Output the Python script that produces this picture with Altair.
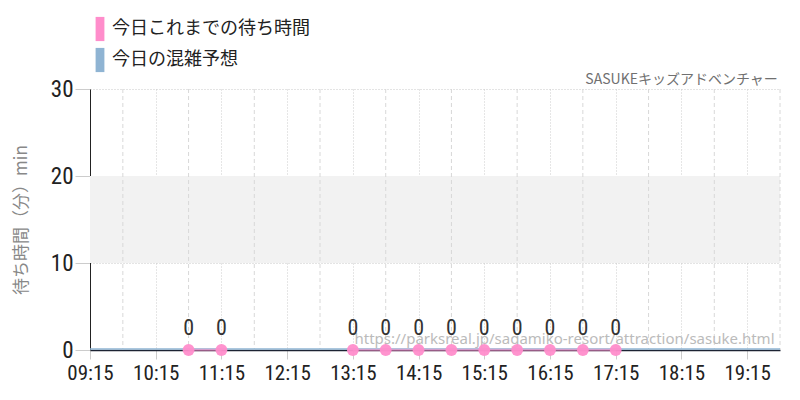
import altair as alt
import pandas as pd

DAY = "2024-01-01T"
actual_times = ["10:45", "11:15", "13:15", "13:45", "14:15", "14:45", "15:15", "15:45", "16:15", "16:45", "17:15"]
actual_vals = [0, 0, 0, 0, 0, 0, 0, 0, 0, 0, 0]
actual_seg = [1, 1, 2, 2, 2, 2, 2, 2, 2, 2, 2]
forecast_times = ["09:15", "10:15", "11:15", "12:15", "13:15", "14:15", "15:15", "16:15", "17:15", "18:15", "19:15", "19:45"]
forecast_vals = [0, 0, 0, 0, 0, 0, 0, 0, 0, 0, 0, 0]
major_ticks = ["09:15", "10:15", "11:15", "12:15", "13:15", "14:15", "15:15", "16:15", "17:15", "18:15", "19:15"]
minor_ticks = ["09:45", "10:45", "11:45", "12:45", "13:45", "14:45", "15:45", "16:45", "17:45", "18:45", "19:45"]
band = [10, 20]
x_domain = ["09:15", "19:45"]
y_domain = [0, 30]
series_names = ["今日これまでの待ち時間", "今日の混雑予想"]
series_colors = ["#ff8dcb", "#8fb4d3"]
title_text = "SASUKEキッズアドベンチャー"
title_pos = ("19:43", 30)
url_text = "https://parksreal.jp/sagamiko-resort/attraction/sasuke.html"
url_pos = ("19:40", 1.3)

JP = "Noto Sans CJK JP"
COND = "Roboto Condensed, Liberation Sans Narrow, DejaVu Sans Condensed, sans-serif"


def ts(t):
    return pd.Timestamp(DAY + t)


actual = pd.DataFrame({"t": [ts(t) for t in actual_times], "v": actual_vals,
                       "seg": actual_seg, "s": series_names[0]})
forecast = pd.DataFrame({"t": [ts(t) for t in forecast_times], "v": forecast_vals, "s": series_names[1]})
minor = pd.DataFrame({"t": [ts(t) for t in minor_ticks]})
banddf = pd.DataFrame({"y": [band[0]], "y2": [band[1]]})
urldf = pd.DataFrame({"t": [ts(url_pos[0])], "v": [url_pos[1]], "txt": [url_text]})
titledf = pd.DataFrame({"t": [ts(title_pos[0])], "v": [title_pos[1]], "txt": [title_text]})

xscale = alt.Scale(domain=[ts(x_domain[0]).isoformat(), ts(x_domain[1]).isoformat()])
yscale = alt.Scale(domain=y_domain, nice=False)
cscale = alt.Scale(domain=series_names, range=series_colors)
color = alt.Color("s:N", scale=cscale,
                  legend=alt.Legend(title=None, orient="none", legendX=-1, legendY=-71,
                                    symbolType="M-0.4,-1.1H0.4V1.1H-0.4Z", symbolSize=484,
                                    symbolStrokeWidth=0, symbolOpacity=1,
                                    labelFont=JP, labelFontSize=18, labelColor="#222",
                                    labelLimit=400, rowPadding=5, labelOffset=1))

xaxis = alt.Axis(title=None, values=[ts(t).isoformat() for t in major_ticks], format="%H:%M",
                 labelFont=COND, labelFontSize=21, labelColor="#222", labelPadding=3,
                 tickColor="#ccc", tickSize=9, domainColor="#1c2333", domainWidth=1.5,
                 gridColor="#cccccc", gridDash=[1, 2], labelFlush=False)
yaxis = alt.Axis(title="待ち時間（分）min", titleFont=JP, titleFontSize=17, titleColor="#888",
                 titleFontWeight="normal", titlePadding=20,
                 values=[0, 10, 20, 30], labelFont=COND, labelFontSize=23, labelColor="#222",
                 tickColor="#ccc", tickSize=15, domainColor="#222", gridColor="#c8c8c8",
                 gridDash=[1, 2], labelPadding=2)

bandc = alt.Chart(banddf).mark_rect(color="#f2f2f2").encode(
    y=alt.Y("y:Q", scale=yscale, axis=yaxis), y2="y2:Q")

minorc = alt.Chart(minor).mark_rule(color="#d8d8d8", strokeDash=[4, 3], strokeWidth=1).encode(
    x=alt.X("t:T", scale=xscale, axis=xaxis))

fline = alt.Chart(forecast).mark_line(strokeWidth=1.5, clip=True, yOffset=-1).encode(
    x=alt.X("t:T", scale=xscale, axis=xaxis),
    y=alt.Y("v:Q", scale=yscale, axis=yaxis),
    color=color)

aline = alt.Chart(actual).mark_line(strokeWidth=2.5, opacity=0.55).encode(
    x=alt.X("t:T", scale=xscale, axis=xaxis),
    y=alt.Y("v:Q", scale=yscale, axis=yaxis),
    color=alt.Color("s:N", scale=cscale, legend=None),
    detail="seg:N")

pts = alt.Chart(actual).mark_circle(size=140, opacity=0.95).encode(
    x=alt.X("t:T", scale=xscale, axis=xaxis),
    y=alt.Y("v:Q", scale=yscale, axis=yaxis),
    color=alt.Color("s:N", scale=cscale, legend=None))

lbls = alt.Chart(actual).mark_text(font=COND, fontSize=22, color="#333", dy=-22).encode(
    x=alt.X("t:T", scale=xscale, axis=xaxis),
    y=alt.Y("v:Q", scale=yscale, axis=yaxis),
    text=alt.Text("v:Q"))

urlc = alt.Chart(urldf).mark_text(font="Noto Sans", fontSize=15, color="#bbbbbb", align="right",
                                  baseline="middle").encode(
    x=alt.X("t:T", scale=xscale, axis=xaxis),
    y=alt.Y("v:Q", scale=yscale, axis=yaxis),
    text="txt:N")

titlec = alt.Chart(titledf).mark_text(font=JP, fontSize=14, color="#707070", align="right",
                                      baseline="alphabetic", dy=-5).encode(
    x=alt.X("t:T", scale=xscale, axis=xaxis),
    y=alt.Y("v:Q", scale=yscale, axis=yaxis),
    text="txt:N")

chart = alt.layer(bandc, minorc, fline, aline, urlc, pts, lbls, titlec).properties(
    width=690, height=261,
    padding={"left": 82, "top": 81, "right": 12, "bottom": 40},
    autosize=alt.AutoSizeParams(type="none"),
).configure_view(stroke=None).configure_axis(labelFontWeight="normal")

chart.save("out.html", embed_options={"renderer": "svg", "actions": False})
